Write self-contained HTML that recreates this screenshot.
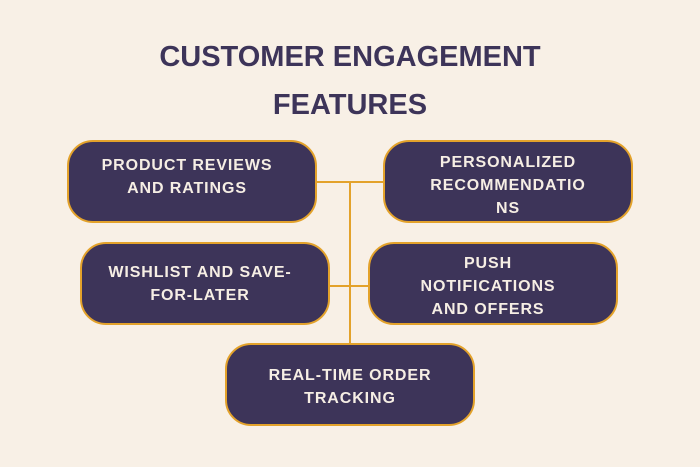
<!DOCTYPE html>
<html><head><style>
body{margin:0;width:700px;height:467px;background:#f8f0e6;position:relative;overflow:hidden;font-family:"Liberation Sans",sans-serif}
.t{position:absolute;left:0;width:700px;text-align:center;color:#3d3459;font-weight:bold;font-size:29px;letter-spacing:0px}
.b{position:absolute;box-sizing:border-box;width:250px;height:83px;background:#3d3459;border:2px solid #e3a22b;border-radius:26px;color:#f6eee4;font-weight:bold;font-size:16px;letter-spacing:0.9px;line-height:23px;text-align:center}
.b span{position:absolute;left:0;right:0}
.l{position:absolute;background:#e3a22b}
</style></head><body>
<div class="t" style="top:41px">CUSTOMER ENGAGEMENT</div>
<div class="t" style="top:89px">FEATURES</div>
<div class="l" style="left:349px;top:182px;width:2px;height:162px"></div>
<div class="l" style="left:316px;top:181px;width:68px;height:2px"></div>
<div class="l" style="left:329px;top:285px;width:40px;height:2px"></div>
<div class="b" style="left:67px;top:140px"><span style="top:12px;left:-10px">PRODUCT REVIEWS<br>AND RATINGS</span></div>
<div class="b" style="left:383px;top:140px"><span style="top:9px">PERSONALIZED<br>RECOMMENDATIO<br>NS</span></div>
<div class="b" style="left:80px;top:242px"><span style="top:17px;left:-10px">WISHLIST AND SAVE-<br>FOR-LATER</span></div>
<div class="b" style="left:368px;top:242px"><span style="top:8px;left:-10px">PUSH<br>NOTIFICATIONS<br>AND OFFERS</span></div>
<div class="b" style="left:225px;top:343px"><span style="top:19px">REAL-TIME ORDER<br>TRACKING</span></div>
</body></html>
